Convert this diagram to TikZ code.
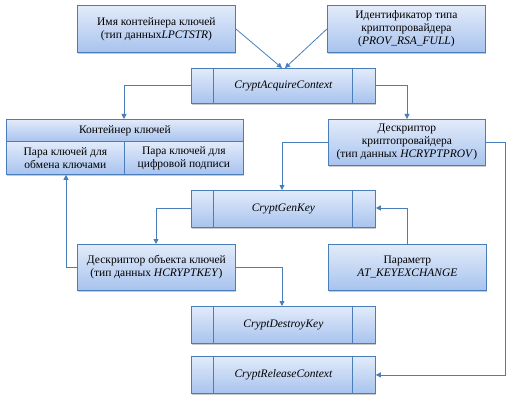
\documentclass[tikz,border=0pt]{standalone}
\usepackage{fontspec}
\setmainfont{Liberation Serif}
\usetikzlibrary{shadows,arrows.meta,calc}
\definecolor{bline}{HTML}{4A7EBB}
\definecolor{ftop}{HTML}{E2EBFA}
\definecolor{fbot}{HTML}{A8C3EE}
\tikzset{
  x=1pt,y=-1pt,
  boxstyle/.style={draw=bline,line width=0.8pt,top color=ftop,bottom color=fbot,
     drop shadow={shadow xshift=1pt,shadow yshift=-1.5pt,opacity=0.35,fill=black!60},
     align=center,font=\fontsize{11.5}{13}\selectfont,inner sep=0pt},
  conn/.style={draw=bline,line width=0.8pt},
  arr/.style={conn,-{Triangle[width=5pt,length=5pt]}},
}
\newcommand{\procbox}[6]{% name, x1,y1,x2,y2, text
  \node[boxstyle,minimum width=#4-#2,minimum height=#5-#3,anchor=north west] (#1) at (#2,#3) {};
  \draw[bline,line width=0.8pt] ($(#1.north west)+(22,0)$) -- ($(#1.south west)+(22,0)$);
  \draw[bline,line width=0.8pt] ($(#1.north east)+(-23,0)$) -- ($(#1.south east)+(-23,0)$);
  \node[font=\fontsize{11.5}{13}\selectfont\itshape] at (#1.center) {#6};
}
\begin{document}
\begin{tikzpicture}
\useasboundingbox (0,0) rectangle (528,404);
% top boxes
\node[boxstyle,minimum width=158,minimum height=47,anchor=north west] (name) at (77,5)
  {Имя контейнера ключей\\(тип данных\textit{LPCTSTR})};
\node[boxstyle,minimum width=158,minimum height=47,anchor=north west] (ident) at (327,5)
  {Идентификатор типа\\криптопровайдера\\(\textit{PROV\_RSA\_FULL})};
\procbox{acq}{191}{68}{375}{103}{CryptAcquireContext}
% container
\node[boxstyle,minimum width=237,minimum height=22,anchor=north west] (conth) at (6,119) {Контейнер ключей};
\node[boxstyle,minimum width=118,minimum height=33,anchor=north west] (cont1) at (6,141)
  {Пара ключей для\\обмена ключами};
\node[boxstyle,minimum width=119,minimum height=33,anchor=north west] (cont2) at (124,141)
  {Пара ключей для\\цифровой подписи};
\node[boxstyle,minimum width=157,minimum height=46,anchor=north west] (desc) at (328,119)
  {Дескриптор\\криптопровайдера\\(тип данных \textit{HCRYPTPROV})};
\procbox{gen}{191}{190}{375}{227}{CryptGenKey}
\node[boxstyle,minimum width=158,minimum height=46,anchor=north west] (keyd) at (77,244)
  {Дескриптор объекта ключей\\(тип данных \textit{HCRYPTKEY})};
\node[boxstyle,minimum width=158,minimum height=46,anchor=north west] (param) at (328,244)
  {Параметр\\\textit{AT\_KEYEXCHANGE}};
\procbox{destroy}{191}{306}{375}{343}{CryptDestroyKey}
\procbox{release}{191}{356}{375}{393}{CryptReleaseContext}
% connectors
\coordinate (m1) at (282,68);
\coordinate (m2) at (285,68);
\draw[arr] (name.east) -- (m1);
\draw[arr] (ident.west) -- (m2);
\draw[arr] (acq.west) -| (conth.north -| 124,0);
\draw[arr] (acq.east) -| (desc.north -| 407,0);
\draw[arr] ($(desc.north west)+(0,23)$) -| (gen.north -| 282,0);
\coordinate (r1) at (505,142);
\draw[arr] ($(desc.north east)+(0,23)$) -- (r1) |- (release.east);
\draw[arr] ($(gen.north west)+(0,18)$) -| (keyd.north -| 156,0);
\draw[arr] (param.north -| 407,0) |- ($(gen.north east)+(0,18)$);
\draw[arr] (keyd.west) -| (cont1.south -| 66,0);
\draw[arr] (keyd.east) -| (destroy.north -| 282,0);
\end{tikzpicture}
\end{document}
